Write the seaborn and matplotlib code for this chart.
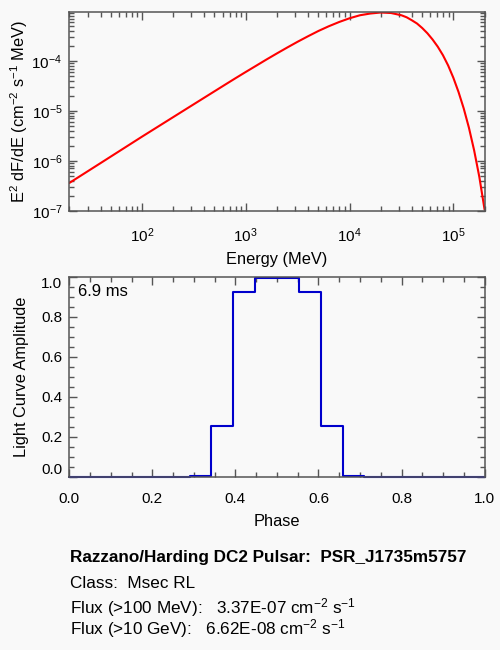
import matplotlib
matplotlib.use('Agg')
import matplotlib.pyplot as plt
import matplotlib.ticker as mticker
import seaborn as sns

# Spectrum (energy in MeV, E^2 dF/dE)
energy_mev = [20, 39.8, 100, 251, 631,
              794, 1000, 1259, 1585, 1995, 2512, 3162, 3981, 5012, 6310, 7943,
              1.0e4, 1.259e4, 1.585e4, 1.995e4, 2.512e4, 3.162e4,
              3.548e4, 3.981e4, 4.467e4, 5.012e4, 5.623e4, 6.310e4, 7.079e4,
              7.943e4, 8.913e4, 1.0e5, 1.122e5, 1.259e5, 1.413e5, 1.585e5,
              1.778e5, 2.0e5]
e2_flux = [3.59e-7, 8.91e-7, 3.02e-6, 1.0e-5, 3.31e-5,
           4.45e-5, 5.96e-5, 7.94e-5, 1.059e-4, 1.40e-4, 1.84e-4, 2.40e-4,
           3.09e-4, 3.94e-4, 4.90e-4, 5.96e-4,
           7.08e-4, 8.13e-4, 8.81e-4, 9.23e-4, 9.02e-4, 8.13e-4,
           7.41e-4, 6.46e-4, 5.56e-4, 4.52e-4, 3.55e-4, 2.66e-4, 1.91e-4,
           1.29e-4, 8.04e-5, 4.57e-5, 2.37e-5, 1.11e-5, 4.57e-6, 1.62e-6,
           4.79e-7, 1.05e-7]

# Light curve
phase = [0.0, 0.053, 0.105, 0.158, 0.211, 0.263, 0.316, 0.368, 0.421, 0.474,
         0.526, 0.579, 0.632, 0.684, 0.737, 0.789, 0.842, 0.895, 0.947, 1.0]
amplitude = [0, 0, 0, 0, 0, 0, 0.005, 0.255, 0.925, 0.992,
             0.992, 0.925, 0.255, 0.005, 0, 0, 0, 0, 0, 0]

period_label = '6.9 ms'
info_lines = [
    'Razzano/Harding DC2 Pulsar:  PSR_J1735m5757',
    'Class:  Msec RL',
    r'Flux (>100 MeV):   3.37E-07 cm$^{-2}$ s$^{-1}$',
    r'Flux (>10 GeV):   6.62E-08 cm$^{-2}$ s$^{-1}$',
]

sns.set_theme(style='ticks')
plt.rcParams['font.family'] = ['Liberation Sans', 'DejaVu Sans']
plt.rcParams['mathtext.fontset'] = 'custom'
plt.rcParams['mathtext.rm'] = 'Liberation Sans'
plt.rcParams['mathtext.it'] = 'Liberation Sans'
plt.rcParams['mathtext.default'] = 'regular'
plt.rcParams['axes.unicode_minus'] = False

bg = '#f9f9f9'
frame = '#555555'
tick_fs = 11
label_fs = 11.8

fig = plt.figure(figsize=(5, 6.5), dpi=100, facecolor=bg)
ax1 = fig.add_axes([0.1386, 0.6758, 0.8306, 0.3052], facecolor=bg)
ax2 = fig.add_axes([0.1386, 0.2666, 0.8306, 0.3077], facecolor=bg)

# Spectrum
sns.lineplot(x=energy_mev, y=e2_flux, ax=ax1, color='#ff0000', linewidth=1.5,
             estimator=None, sort=False)
ax1.set_xscale('log')
ax1.set_yscale('log')
ax1.set_xlim(20, 2.0e5)
ax1.set_ylim(1e-7, 9.3e-4)
ax1.set_xlabel('Energy (MeV)', fontsize=label_fs, labelpad=5)
ax1.set_ylabel(r'E$^2$ dF/dE (cm$^{-2}$ s$^{-1}$ MeV)', fontsize=label_fs, labelpad=1)
ax1.xaxis.set_major_locator(mticker.LogLocator(base=10, numticks=10))
ax1.xaxis.set_minor_locator(mticker.LogLocator(base=10, subs=range(2, 10), numticks=10))
ax1.yaxis.set_major_locator(mticker.LogLocator(base=10, numticks=10))
ax1.yaxis.set_minor_locator(mticker.LogLocator(base=10, subs=range(2, 10), numticks=10))
ax1.xaxis.set_minor_formatter(mticker.NullFormatter())
ax1.yaxis.set_minor_formatter(mticker.NullFormatter())

# Light curve
sns.lineplot(x=phase, y=amplitude, ax=ax2, color='#0000cc', linewidth=1.5,
             drawstyle='steps-mid', estimator=None, sort=False, clip_on=False)
ax2.set_xlim(0, 1)
ax2.set_ylim(0, 1)
ax2.set_xticks([0, 0.2, 0.4, 0.6, 0.8, 1.0])
ax2.set_yticks([0, 0.2, 0.4, 0.6, 0.8, 1.0])
ax2.xaxis.set_minor_locator(mticker.MultipleLocator(0.05))
ax2.yaxis.set_minor_locator(mticker.MultipleLocator(0.05))
ax2.xaxis.set_major_formatter(mticker.FormatStrFormatter('%.1f'))
ax2.yaxis.set_major_formatter(mticker.FormatStrFormatter('%.1f'))
ax2.set_xlabel('Phase', fontsize=label_fs, labelpad=6)
ax2.set_ylabel('Light Curve Amplitude', fontsize=label_fs, labelpad=9)
ax2.text(0.022, 0.965, period_label, transform=ax2.transAxes, fontsize=12,
         ha='left', va='top', color='black')

for ax in (ax1, ax2):
    for sp in ax.spines.values():
        sp.set_visible(True)
        sp.set_color(frame)
        sp.set_linewidth(1.1)
    ax.tick_params(which='both', direction='in', top=True, right=True,
                   color=frame, labelsize=tick_fs, labelcolor='black')
    ax.tick_params(axis='x', which='both', pad=11)
    ax.tick_params(axis='y', which='both', pad=5)
    ax.tick_params(which='major', length=6, width=1)
    ax.tick_params(which='minor', length=3.5, width=1)
    ax.xaxis.label.set_color('black')
    ax.yaxis.label.set_color('black')

fig.canvas.draw()
ylabels = ax2.get_yticklabels()
ylabels[0].set_verticalalignment('bottom')
ylabels[-1].set_verticalalignment('top')

# baselines of the text block under the plots
y_pos = [0.1358, 0.0949, 0.0564, 0.0246]
for i, (line, yp) in enumerate(zip(info_lines, y_pos)):
    fig.text(0.141, yp, line, fontsize=12.3, ha='left', va='baseline',
             fontweight='bold' if i == 0 else 'normal', color='black')

plt.savefig('out.png', dpi=100, facecolor=bg)
